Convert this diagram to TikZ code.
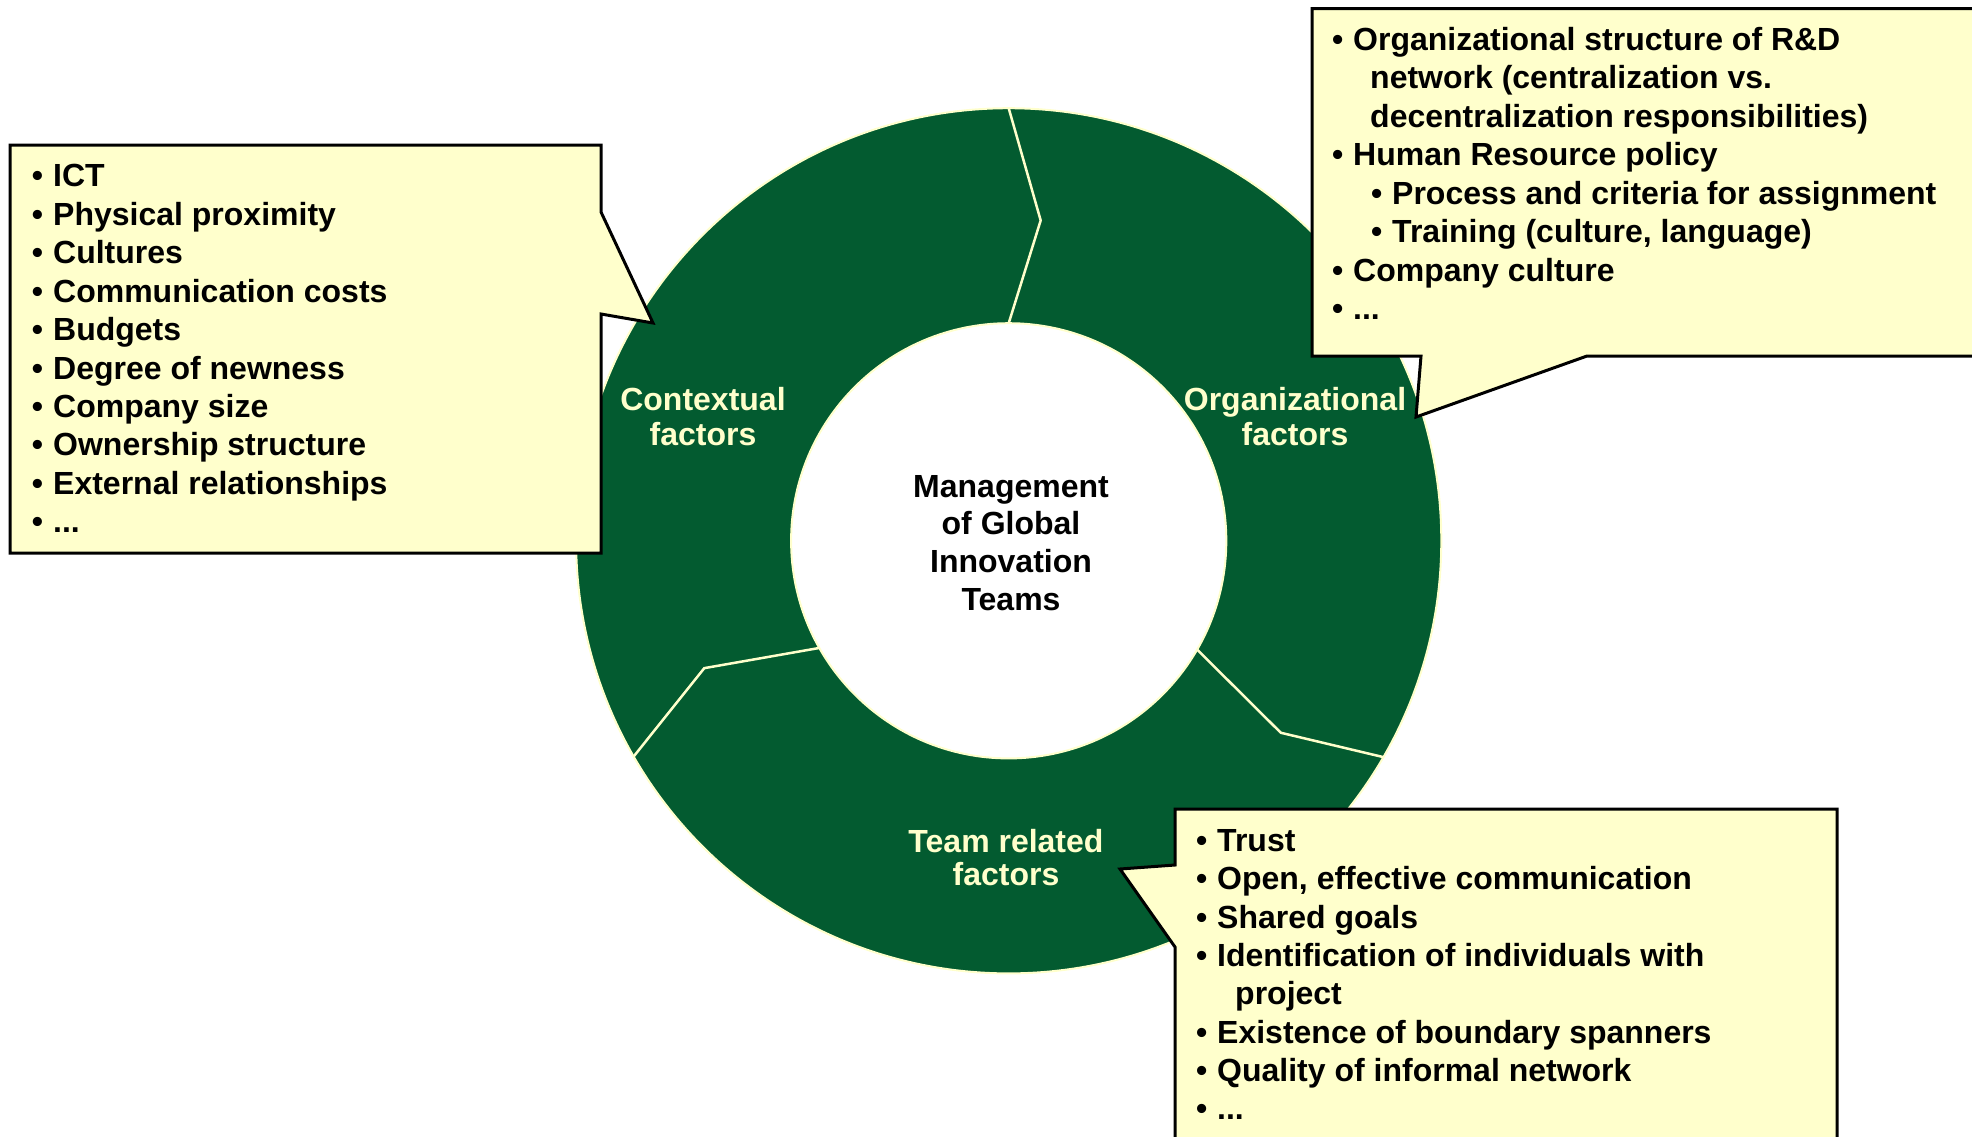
\documentclass[tikz,border=0pt]{standalone}
\usepackage{fontspec}
\setmainfont{Liberation Sans}
\usetikzlibrary{calc}

\definecolor{ringgreen}{HTML}{035B30}
\definecolor{notecream}{HTML}{FFFFCC}

\tikzset{
  ring edge/.style={draw=notecream, line width=2pt},
  divider/.style={draw=notecream, line width=2.5pt, line join=miter},
  callout/.style={draw=black, fill=notecream, line width=3pt, line join=miter},
  textline/.style={inner sep=0pt, font=\bfseries\fontsize{32}{38}\selectfont},
  item/.style={textline, anchor=base west, text=black},
  ringlabel/.style={textline, anchor=base, text=notecream},
  hublabel/.style={textline, anchor=base, text=black},
}
% bullet set to the left of the item text
\newcommand\bulletmark{\llap{•\hspace{10pt}}}
% trailing "and so on" item
\newcommand\moredots{...}

\begin{document}
\begin{tikzpicture}[x=1pt, y=-1pt]
  \useasboundingbox (0,0) rectangle (1972,1136);
  \clip (0,0) rectangle (1972,1136);

  % ---- ring of three factor groups ----
  \coordinate (c) at (1008.7,540.8);
  \fill[ringgreen, even odd rule] (c) circle[radius=432.6pt] (c) circle[radius=217.6pt];
  \draw[ring edge] (c) circle[radius=432.6pt];
  \draw[ring edge] (c) circle[radius=217.6pt];

  \draw[divider] ($(c)+(90:432.6pt)$) -- ($(c)+(84.3:322pt)$) -- ($(c)+(90:217.6pt)$);
  \draw[divider] ($(c)+(209.9:432.6pt)$) -- ($(c)+(202.7:330pt)$) -- ($(c)+(209.5:217.6pt)$);
  \draw[divider] ($(c)+(330:432.6pt)$) -- ($(c)+(324.8:333pt)$) -- ($(c)+(330:217.6pt)$);

  % ring labels
  \node[ringlabel] (ctx1) at (703,410.7) {Contextual};
  \node[ringlabel] (ctx2) at (703,445) {factors};
  \node[ringlabel] (org1) at (1295,410) {Organizational};
  \node[ringlabel] (org2) at (1295,445) {factors};
  \node[ringlabel] (team1) at (1006,852) {Team related};
  \node[ringlabel] (team2) at (1006,885) {factors};

  % hub text
  \node[hublabel] (hub1) at (1011,497) {Management};
  \node[hublabel] (hub2) at (1011,534.5) {of Global};
  \node[hublabel] (hub3) at (1011,572) {Innovation};
  \node[hublabel] (hub4) at (1011,610) {Teams};

  % ---- callout: contextual factors ----
  \draw[callout] (10,145) -- (601,145) -- (601,212) -- (653,323) -- (601,314)
    -- (601,553) -- (10,553) -- cycle;
  \foreach \y/\t [count=\i] in {
      186.7/ICT,
      225.2/Physical proximity,
      263.6/Cultures,
      302.1/Communication costs,
      340.5/Budgets,
      379.0/Degree of newness,
      417.4/Company size,
      455.9/Ownership structure,
      494.3/External relationships,
      532.8/\moredots}
    \node[item] (ctxitem\i) at (53,\y) {\bulletmark\t};

  % ---- callout: organizational factors ----
  \draw[callout] (1312,8.5) -- (1990,8.5) -- (1990,356) -- (1587,356) -- (1416,417)
    -- (1421,356) -- (1312,356) -- cycle;
  \foreach \x/\y/\b/\t [count=\i] in {
      1353/50/1/{Organizational structure of R\&D},
      1370/88.5/0/{network (centralization vs.},
      1370/127/0/{decentralization responsibilities)},
      1353/165.5/1/{Human Resource policy},
      1392/204/1/{Process and criteria for assignment},
      1392/242.5/1/{Training (culture, language)},
      1353/281/1/{Company culture},
      1353/319.5/1/{\moredots}}
    \node[item] (orgitem\i) at (\x,\y) {\ifnum\b=1 \bulletmark\fi\t};

  % ---- callout: team related factors ----
  \draw[callout] (1175,809) -- (1837,809) -- (1837,1160) -- (1175,1160) -- (1175,947)
    -- (1120,869) -- (1175,865) -- cycle;
  \foreach \x/\y/\b/\t [count=\i] in {
      1217/851.3/1/{Trust},
      1217/889.6/1/{Open, effective communication},
      1217/928/1/{Shared goals},
      1217/966.3/1/{Identification of individuals with},
      1235/1004.7/0/{project},
      1217/1043/1/{Existence of boundary spanners},
      1217/1081.3/1/{Quality of informal network},
      1217/1119.7/1/{\moredots}}
    \node[item] (teamitem\i) at (\x,\y) {\ifnum\b=1 \bulletmark\fi\t};
\end{tikzpicture}
\end{document}
